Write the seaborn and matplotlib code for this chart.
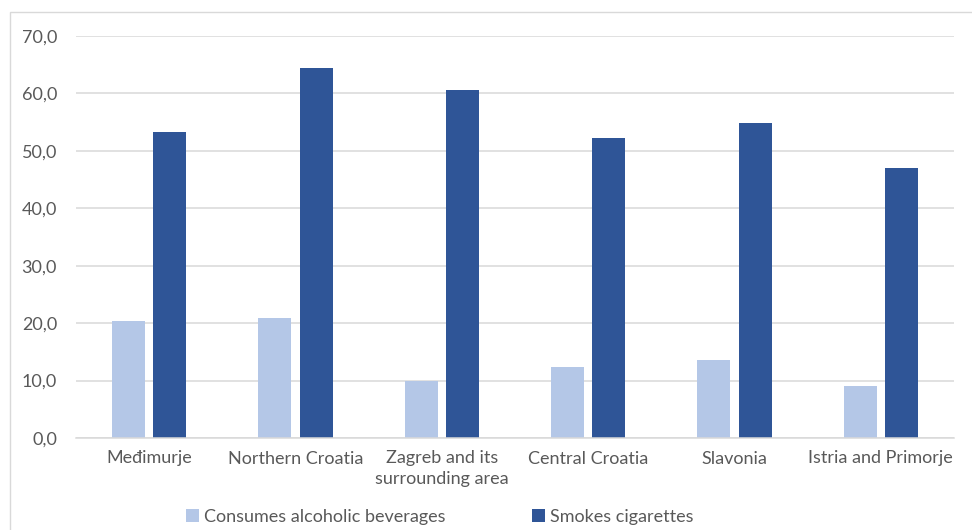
import matplotlib
matplotlib.use("Agg")
import matplotlib.pyplot as plt
import matplotlib.patches as mpatches
from matplotlib.ticker import FuncFormatter
import seaborn as sns
import pandas as pd

regions = ["Međimurje", "Northern Croatia", "Zagreb and its\nsurrounding area",
           "Central Croatia", "Slavonia", "Istria and Primorje"]
alcohol = [20.4, 20.9, 10.0, 12.3, 13.5, 9.0]
smoking = [53.3, 64.5, 60.6, 52.2, 54.8, 47.0]
series = ["Consumes alcoholic beverages", "Smokes cigarettes"]
colors = ["#b4c7e7", "#2f5597"]
yticks = [0, 10, 20, 30, 40, 50, 60, 70]

df = pd.DataFrame({
    "region": regions * 2,
    "value": alcohol + smoking,
    "series": [series[0]] * len(regions) + [series[1]] * len(regions),
})

sns.set_theme(style="white")
plt.rcParams["font.family"] = ["Lato", "DejaVu Sans"]
text_color = "#595959"

W, H = 972, 530
fig = plt.figure(figsize=(W / 100, H / 100), dpi=100)
ax = fig.add_axes([76 / W, 1 - 438 / H, (954 - 76) / W, (438 - 36) / H])

sns.barplot(data=df, x="region", y="value", hue="series", order=regions,
            hue_order=series, palette=colors, width=0.566, gap=0.2,
            saturation=1, edgecolor="none", ax=ax, legend=True)

ax.set_ylim(0, 70)
ax.set_xlim(-0.5, len(regions) - 0.5)
ax.set_yticks(yticks)
ax.yaxis.set_major_formatter(FuncFormatter(lambda v, _: f"{v:.1f}".replace(".", ",")))
ax.grid(axis="y", color="#d9d9d9", linewidth=1.1)
ax.set_axisbelow(True)
for s in ["top", "right", "left"]:
    ax.spines[s].set_visible(False)
ax.spines["bottom"].set_color("#d9d9d9")
ax.spines["bottom"].set_linewidth(1.1)
ax.set_xlabel("")
ax.set_ylabel("")
ax.tick_params(axis="both", length=0, labelsize=13, colors=text_color)
ax.tick_params(axis="x", pad=9)
ax.tick_params(axis="y", pad=13.7)
for lbl in ax.get_xticklabels():
    lbl.set_linespacing(1.35)
    lbl.set_verticalalignment("top")

handles, labels = ax.get_legend_handles_labels()
ax.get_legend().remove()
leg = fig.legend(handles, labels, loc="center", bbox_to_anchor=(440 / W, 1 - 517 / H),
                 ncol=2, frameon=False, fontsize=13, handlelength=0.7,
                 handleheight=0.7, handletextpad=0.3, columnspacing=4.8)
for t in leg.get_texts():
    t.set_color(text_color)

# chart frame
fig.patches.append(mpatches.Rectangle((10 / W, -0.02), 1.0, 1 - 12 / H + 0.02,
                                      transform=fig.transFigure, fill=False,
                                      edgecolor="#d9d9d9", linewidth=1.0))

fig.savefig("out.png", dpi=100)
